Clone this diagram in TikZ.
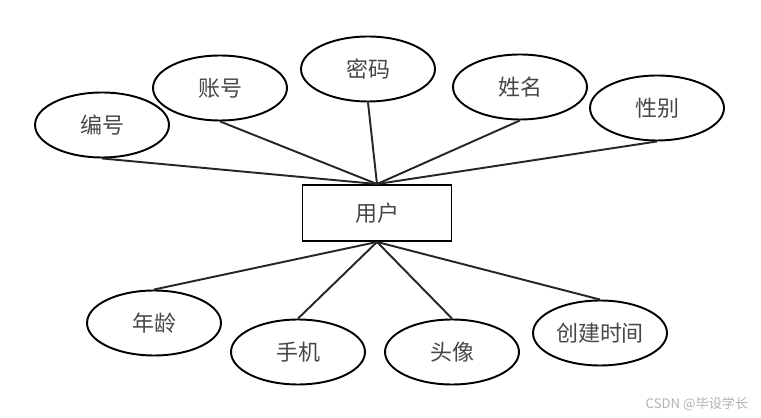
\documentclass[tikz,border=0pt]{standalone}
\usepackage{fontspec}
\usetikzlibrary{shapes.geometric}
\newfontfamily\cjk{Noto Sans CJK SC}

\begin{document}
\begin{tikzpicture}[
    x=0.02cm, y=-0.02cm,
    entity/.style={draw, line width=1.1pt, minimum width=2.98cm, minimum height=1.12cm,
        font=\cjk\fontsize{12.5}{15}\selectfont, text=black!72},
    attr/.style={ellipse, draw, line width=1.1pt, minimum width=2.68cm, minimum height=1.3cm,
        inner sep=0pt, font=\cjk\fontsize{12.5}{15}\selectfont, text=black!72},
    link/.style={line width=1.1pt, black!85},
]
    \useasboundingbox[fill=white] (0,0) rectangle (761,418);

    % Entity
    \node[entity] (user) at (377,213) {用户};

    % Attributes above
    \foreach \n/\x/\y/\t in {bianhao/102/125/编号, zhanghao/220/88/账号, mima/368/69/密码,
                             xingming/520/87/姓名, xingbie/657/108/性别} {
        \node[attr] (\n) at (\x,\y) {\t};
        \draw[link] (\n.south) -- (user.north);
    }

    % Attributes below
    \foreach \n/\x/\y/\t in {nianling/154/323/年龄, shouji/298/352/手机, touxiang/452/352/头像,
                             shijian/600/333/创建时间} {
        \node[attr] (\n) at (\x,\y) {\t};
        \draw[link] (\n.north) -- (user.south);
    }

    % Watermark
    \node[font=\cjk\fontsize{7.5}{9}\selectfont, text=black!30] (mark) at (697,404) {CSDN @毕设学长};

\end{tikzpicture}
\end{document}
